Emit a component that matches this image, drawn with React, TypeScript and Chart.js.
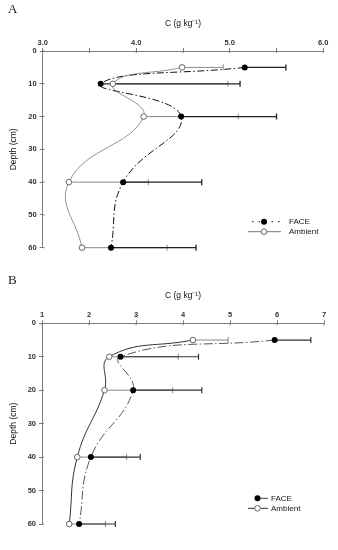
import React, { useEffect, useRef } from 'react';
import { Chart, registerables } from 'chart.js';
Chart.register(...registerables);

// ---- data ----
const depths = [5, 10, 20, 40, 60];
const depthTicks = [0, 10, 20, 30, 40, 50, 60];

const faceA = [5.16, 3.62, 4.48, 3.86, 3.73];
const faceSeA = [0.44, 1.49, 1.02, 0.84, 0.91];
const ambientA = [4.49, 3.75, 4.08, 3.28, 3.42];
const ambientSeA = [0.44, 1.23, 1.01, 0.85, 0.91];

const faceB = [5.95, 2.67, 2.94, 2.04, 1.79];
const faceSeB = [0.77, 1.66, 1.46, 1.05, 0.77];
const ambientB = [4.21, 2.43, 2.33, 1.75, 1.58];
const ambientSeB = [0.75, 1.47, 1.45, 1.05, 0.77];

const xTicksA = [3.0, 3.5, 4.0, 4.5, 5.0, 5.5, 6.0];
const xTicksB = [1, 2, 3, 4, 5, 6, 7];

const seriesNames = ['FACE', 'Ambient'];
const xTitle = 'C (g kg⁻¹)';
const yTitle = 'Depth (cm)';

const FONT = '"Liberation Sans", Arial, sans-serif';
const AXIS = '#7c7c7c';

type Panel = {
  face: number[]; faceSe: number[]; amb: number[]; ambSe: number[];
  xTicks: number[]; decimals: number;
  height: number;
  area: { left: number; right: number; top: number; bottom: number };
  titlePad: number; yTitlePad: number;
  faceColor: string; faceDash: number[]; faceWidth: number;
  ambColor: string; ambWidth: number;
  faceBar: string; ambBar: string; faceBarW: number;
  legend: { faceY: number; ambY: number; textX: number; markerX: number;
    faceLine: [number, number]; ambLine: [number, number]; faceDash: number[] };
};

const panelA: Panel = {
  face: faceA, faceSe: faceSeA, amb: ambientA, ambSe: ambientSeA,
  xTicks: xTicksA, decimals: 1, height: 270,
  area: { left: 42.7, right: 323.3, top: 51, bottom: 247.7 },
  titlePad: 19, yTitlePad: 9,
  faceColor: '#111', faceDash: [7, 2.5, 1.5, 2.5], faceWidth: 1,
  ambColor: '#777', ambWidth: 0.8,
  faceBar: '#222', ambBar: '#8a8a8a', faceBarW: 1.3,
  legend: { faceY: 221.7, ambY: 231.7, textX: 289, markerX: 264,
    faceLine: [252, 281], ambLine: [248, 281], faceDash: [1.5, 5] },
};

const panelB: Panel = {
  face: faceB, faceSe: faceSeB, amb: ambientB, ambSe: ambientSeB,
  xTicks: xTicksB, decimals: 0, height: 280,
  area: { left: 42, right: 324, top: 53.3, bottom: 254 },
  titlePad: 20.6, yTitlePad: 9,
  faceColor: '#444', faceDash: [9, 2.5, 1.5, 2.5], faceWidth: 0.9,
  ambColor: '#333', ambWidth: 1,
  faceBar: '#333', ambBar: '#888', faceBarW: 1.2,
  legend: { faceY: 228.3, ambY: 238.3, textX: 271, markerX: 257.5,
    faceLine: [257, 268], ambLine: [248, 268], faceDash: [] },
};

function makeChart(canvas: HTMLCanvasElement, p: Panel) {
  const pts = (xs: number[]) => xs.map((x, i) => ({ x, y: depths[i] }));
  const xMin = p.xTicks[0];
  const xMax = p.xTicks[p.xTicks.length - 1];
  const xStep = p.xTicks[1] - p.xTicks[0];

  const plugin = {
    id: 'extras',
    beforeDatasetsDraw(chart: any) {
      const ctx = chart.ctx as CanvasRenderingContext2D;
      const xs = chart.scales.x, ys = chart.scales.y;
      const bars: [number[], number[], string, number][] = [
        [p.amb, p.ambSe, p.ambBar, 1],
        [p.face, p.faceSe, p.faceBar, p.faceBarW],
      ];
      ctx.save();
      for (const [m, se, col, w] of bars) {
        ctx.strokeStyle = col;
        ctx.lineWidth = w;
        m.forEach((v, i) => {
          const x0 = xs.getPixelForValue(v);
          const x1 = xs.getPixelForValue(v + se[i]);
          const y = ys.getPixelForValue(depths[i]);
          ctx.beginPath();
          ctx.moveTo(x0, y); ctx.lineTo(x1, y);
          ctx.moveTo(x1, y - 3); ctx.lineTo(x1, y + 3);
          ctx.stroke();
        });
      }
      // inward tick marks
      ctx.strokeStyle = AXIS;
      ctx.lineWidth = 1;
      xs.ticks.forEach((t: any) => {
        const x = xs.getPixelForValue(t.value);
        ctx.beginPath(); ctx.moveTo(x, xs.bottom); ctx.lineTo(x, xs.bottom + 2); ctx.stroke();
      });
      ys.ticks.forEach((t: any) => {
        const y = ys.getPixelForValue(t.value);
        ctx.beginPath(); ctx.moveTo(ys.right, y); ctx.lineTo(ys.right + 2, y); ctx.stroke();
      });
      ctx.restore();
    },
    afterDraw(chart: any) {
      const ctx = chart.ctx as CanvasRenderingContext2D;
      const L = p.legend;
      ctx.save();
      // FACE
      ctx.strokeStyle = p.faceColor;
      ctx.lineWidth = 1;
      ctx.setLineDash(L.faceDash);
      ctx.beginPath(); ctx.moveTo(L.faceLine[0], L.faceY); ctx.lineTo(L.faceLine[1], L.faceY); ctx.stroke();
      ctx.setLineDash([]);
      ctx.fillStyle = '#000';
      ctx.beginPath(); ctx.arc(L.markerX, L.faceY, 3, 0, Math.PI * 2); ctx.fill();
      // Ambient
      ctx.strokeStyle = p.ambColor;
      ctx.beginPath(); ctx.moveTo(L.ambLine[0], L.ambY); ctx.lineTo(L.ambLine[1], L.ambY); ctx.stroke();
      ctx.fillStyle = '#fff';
      ctx.strokeStyle = '#666';
      ctx.beginPath(); ctx.arc(L.markerX, L.ambY, 2.8, 0, Math.PI * 2); ctx.fill(); ctx.stroke();
      ctx.fillStyle = '#111';
      ctx.font = `8px ${FONT}`;
      ctx.textBaseline = 'middle';
      ctx.textAlign = 'left';
      ctx.fillText(seriesNames[0], L.textX, L.faceY);
      ctx.fillText(seriesNames[1], L.textX, L.ambY);
      ctx.restore();
    },
  };

  return new Chart(canvas, {
    type: 'scatter',
    data: {
      datasets: [
        {
          label: seriesNames[1], data: pts(p.amb), showLine: true, tension: 0.45,
          borderColor: p.ambColor, borderWidth: p.ambWidth,
          pointRadius: 2.8, pointBackgroundColor: '#fff', pointBorderColor: '#666', pointBorderWidth: 1,
          clip: false,
        },
        {
          label: seriesNames[0], data: pts(p.face), showLine: true, tension: 0.45,
          borderColor: p.faceColor, borderWidth: p.faceWidth, borderDash: p.faceDash,
          pointRadius: 3, pointBackgroundColor: '#000', pointBorderColor: '#000', pointBorderWidth: 0,
          clip: false,
        },
      ] as any,
    },
    options: {
      animation: false,
      responsive: false,
      maintainAspectRatio: false,
      layout: { padding: { left: 0, top: 0, right: 338 - p.area.right, bottom: p.height - p.area.bottom } },
      plugins: { legend: { display: false }, tooltip: { enabled: false } },
      scales: {
        x: {
          type: 'linear', position: 'top', min: xMin, max: xMax,
          afterBuildTicks: (s: any) => { s.ticks = p.xTicks.map((v) => ({ value: v })); },
          ticks: {
            autoSkip: false, maxRotation: 0, padding: 1, color: '#333',
            font: { family: FONT, size: 7.5, weight: 'bold' },
            callback: (v: any) => (Math.abs(v - Math.round(v)) < 1e-9 ? Number(v).toFixed(p.decimals) : ''),
          },
          grid: { drawOnChartArea: false, drawTicks: true, tickLength: 3, color: AXIS },
          border: { color: AXIS, width: 1 },
          title: { display: true, text: xTitle, color: '#111', font: { family: FONT, size: 8.5 }, padding: { top: p.titlePad, bottom: 0 } },
          afterFit: (s: any) => { s.height = p.area.top; },
        },
        y: {
          type: 'linear', reverse: true, min: depthTicks[0], max: depthTicks[depthTicks.length - 1],
          afterBuildTicks: (s: any) => { s.ticks = depthTicks.map((v) => ({ value: v })); },
          ticks: { autoSkip: false, padding: 3, color: '#333', font: { family: FONT, size: 7.5, weight: 'bold' } },
          grid: { drawOnChartArea: false, drawTicks: true, tickLength: 3, color: AXIS },
          border: { color: AXIS, width: 1 },
          title: { display: true, text: yTitle, color: '#111', font: { family: FONT, size: 8.5 }, padding: { top: p.yTitlePad, bottom: 0 } },
          afterFit: (s: any) => { s.width = p.area.left; },
        },
      },
    } as any,
    plugins: [plugin],
  });
}

function PanelChart({ p, top, letter, letterTop }: { p: Panel; top: number; letter: string; letterTop: number }) {
  const ref = useRef<HTMLCanvasElement>(null);
  useEffect(() => {
    const c = makeChart(ref.current!, p);
    return () => c.destroy();
  }, [p]);
  return (
    <div style={{ position: 'absolute', left: 0, top, width: 338, height: p.height }}>
      <canvas ref={ref} width={338} height={p.height} style={{ display: 'block', width: 338, height: p.height }} />
      <div style={{ position: 'absolute', left: 8, top: letterTop, fontFamily: '"Liberation Serif", "Times New Roman", serif', fontSize: 13, lineHeight: '13px', color: '#222' }}>{letter}</div>
    </div>
  );
}

export default function App() {
  return (
    <div style={{ position: 'absolute', left: 0, top: 0, width: 338, height: 550, background: '#fff', overflow: 'hidden' }}>
      <PanelChart p={panelA} top={0} letter="A" letterTop={2} />
      <PanelChart p={panelB} top={270} letter="B" letterTop={3} />
    </div>
  );
}
